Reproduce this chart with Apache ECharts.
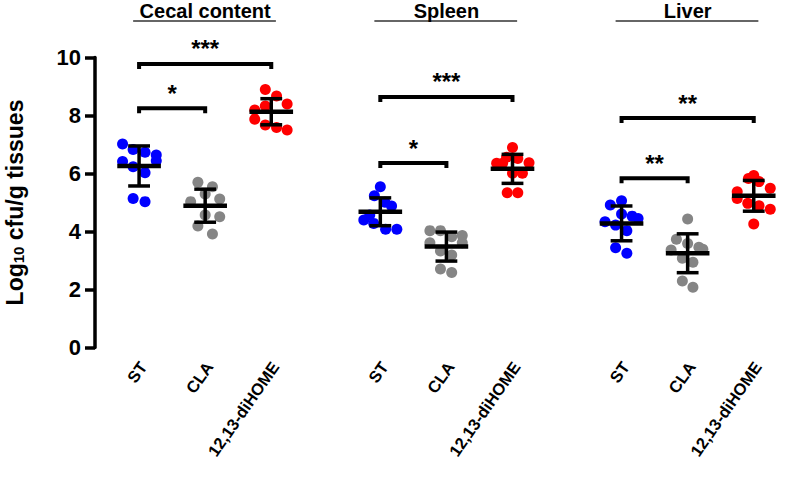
<!DOCTYPE html>
<html><head><meta charset="utf-8">
<script src="https://cdn.jsdelivr.net/npm/echarts@6/dist/echarts.min.js"></script>
<style>html,body{margin:0;padding:0;background:#fff}#c{width:800px;height:482px}</style>
</head><body><div id="c"></div>
<script>
// ---- data ----
const tissues = ['Cecal content', 'Spleen', 'Liver'];
const treatments = ['ST', 'CLA', '12,13-diHOME'];
// x position of each column (category units; gaps between tissues)
const columnPos = [0, 1, 2, 3.65, 4.65, 5.65, 7.3, 8.3, 9.3];
const columnLabels = ['ST', 'CLA', '12,13-diHOME', 'ST', 'CLA', '12,13-diHOME', 'ST', 'CLA', '12,13-diHOME'];

// individual points (log10 cfu/g) and horizontal jitter (category units)
const cecalST = [7.02, 6.83, 6.73, 6.64, 6.44, 6.41, 6.23, 6.03, 5.14, 5.03];
const cecalSTJit = [-0.25, -0.09, 0.09, 0.26, 0.26, -0.25, -0.09, 0.09, -0.09, 0.09];
const cecalCLA = [5.70, 5.54, 5.29, 5.12, 5.03, 4.57, 4.51, 4.19, 3.91];
const cecalCLAJit = [-0.11, 0.11, 0, 0.22, -0.22, 0, 0.22, -0.11, 0.11];
const cecalDi = [8.90, 8.67, 8.40, 8.19, 8.33, 7.87, 7.67, 7.59, 7.50];
const cecalDiJit = [-0.09, 0.08, 0.24, -0.25, -0.09, -0.25, -0.09, 0.08, 0.24];

const spleenST = [5.54, 5.23, 5.01, 4.88, 4.57, 4.40, 4.28, 4.08, 4.08];
const spleenSTJit = [0, -0.09, 0.07, 0.17, -0.16, -0.25, -0.10, 0.08, 0.25];
const spleenCLA = [4.03, 4.03, 3.82, 3.86, 3.61, 3.61, 3.33, 3.19, 2.71, 2.59];
const spleenCLAJit = [-0.25, -0.09, 0.08, 0.24, -0.25, 0.24, -0.09, 0.08, -0.09, 0.08];
const spleenDi = [6.90, 6.35, 6.35, 6.56, 6.52, 6.37, 6.01, 6.01, 5.34, 5.34];
const spleenDiJit = [0, -0.24, -0.15, -0.09, 0.08, 0.25, 0, 0.15, -0.08, 0.08];

const liverST = [4.91, 5.06, 4.60, 4.53, 4.45, 4.34, 4.22, 4.03, 3.44, 3.25];
const liverSTJit = [-0.17, 0, 0, 0.16, 0.25, -0.25, -0.09, 0.08, -0.09, 0.08];
const liverCLA = [4.43, 3.73, 3.59, 3.46, 3.39, 3.36, 3.08, 2.94, 2.29, 2.08];
const liverCLAJit = [0, -0.17, 0, 0.17, 0.23, -0.25, -0.08, 0.08, -0.08, 0.08];
const liverDi = [5.83, 5.93, 5.72, 5.49, 5.37, 5.14, 4.97, 4.89, 4.77, 4.26];
const liverDiJit = [-0.08, 0, 0.08, 0.25, -0.25, -0.25, -0.09, 0.08, 0.25, 0];

// mean and SD per column (as drawn)
const means = [6.26, 4.89, 8.13, 4.68, 3.48, 6.16, 4.28, 3.25, 5.23];
const sds = [0.69, 0.57, 0.45, 0.48, 0.50, 0.50, 0.60, 0.67, 0.53];

// significance brackets: [from column, to column, y level], and their labels
const bracketFrom = [0, 0, 3, 3, 6, 6];
const bracketTo = [1, 2, 4, 5, 7, 8];
const bracketY = [8.25, 9.78, 6.36, 8.64, 5.84, 7.91];
const bracketText = ['*', '***', '*', '***', '**', '**'];

const yTicks = [0, 2, 4, 6, 8, 10];

// ---- build ----
const FONT = "'Liberation Sans', Arial, Helvetica, sans-serif";
function pts(vals, jit, col) {
  return vals.map((v, i) => [columnPos[col] + jit[i], v]);
}
const stData = [].concat(pts(cecalST, cecalSTJit, 0), pts(spleenST, spleenSTJit, 3), pts(liverST, liverSTJit, 6));
const claData = [].concat(pts(cecalCLA, cecalCLAJit, 1), pts(spleenCLA, spleenCLAJit, 4), pts(liverCLA, liverCLAJit, 7));
const diData = [].concat(pts(cecalDi, cecalDiJit, 2), pts(spleenDi, spleenDiJit, 5), pts(liverDi, liverDiJit, 8));

const errData = columnPos.map((x, i) => [x, means[i], sds[i]]);
const brData = bracketFrom.map((f, i) => [columnPos[f], columnPos[bracketTo[i]], bracketY[i]]);
const LABEL_SHIFT = 0.06; // rotated labels sit slightly right of their column
const labelPos = columnPos.map(p => p + LABEL_SHIFT);

const chart = echarts.init(document.getElementById('c'), null, {renderer: 'svg'});

const option = {
  animation: false,
  backgroundColor: '#fff',
  grid: {left: 95, right: 0, top: 57.5, bottom: 134.5, containLabel: false, outerBoundsMode: 'none'},
  xAxis: {
    type: 'value', min: -0.667, max: 10.0,
    axisLine: {show: false}, axisTick: {show: false}, splitLine: {show: false},
    axisLabel: {
      customValues: labelPos,
      rotate: 55, margin: 16,
      fontSize: 16.5, fontWeight: 'bold', color: '#000', fontFamily: FONT,
      formatter: function (v) {
        let idx = 0, best = 1e9;
        labelPos.forEach((p, i) => { if (Math.abs(p - v) < best) { best = Math.abs(p - v); idx = i; } });
        return columnLabels[idx];
      }
    }
  },
  yAxis: {
    type: 'value', min: 0, max: 10, interval: 2,
    name: '{a|Log}{s|10}{a| cfu/g tissues}',
    nameLocation: 'middle', nameGap: 69,
    nameTextStyle: {
      fontSize: 23, fontWeight: 'bold', color: '#000', fontFamily: FONT,
      rich: {
        a: {fontSize: 23, fontWeight: 'bold', color: '#000', fontFamily: FONT, lineHeight: 23},
        s: {fontSize: 15, fontWeight: 'bold', color: '#000', fontFamily: FONT, lineHeight: 23, verticalAlign: 'bottom', padding: [8, 0, 0, 0]}
      }
    },
    axisLine: {show: true, onZero: false, lineStyle: {color: '#000', width: 3.5}},
    axisTick: {show: true, length: 10, lineStyle: {color: '#000', width: 3.5}},
    splitLine: {show: false},
    axisLabel: {
      margin: 14, fontSize: 22, fontWeight: 'bold', color: '#000', fontFamily: FONT,
      formatter: v => (yTicks.indexOf(v) >= 0 ? String(v) : '')
    }
  },
  series: [
    {type: 'scatter', name: 'ST', data: stData, symbolSize: 11, itemStyle: {color: '#0000ff', opacity: 1}, z: 2},
    {type: 'scatter', name: 'CLA', data: claData, symbolSize: 11, itemStyle: {color: '#858585', opacity: 1}, z: 2},
    {type: 'scatter', name: '12,13-diHOME', data: diData, symbolSize: 11, itemStyle: {color: '#ff0000', opacity: 1}, z: 2},
    {
      type: 'custom', name: 'meanSD', data: errData, z: 5,
      encode: {x: 0, y: 1},
      renderItem: function (params, api) {
        const x = api.value(0), m = api.value(1), s = api.value(2);
        const c = api.coord([x, m]);
        const t = api.coord([x, m + s]);
        const b = api.coord([x, m - s]);
        const unit = api.size([1, 0])[0];
        const hw = unit * 0.33, cw = unit * 0.165;
        const st = {stroke: '#000', lineWidth: 3.5};
        return {type: 'group', children: [
          {type: 'line', shape: {x1: c[0], y1: t[1], x2: c[0], y2: b[1]}, style: st},
          {type: 'line', shape: {x1: c[0] - cw, y1: t[1], x2: c[0] + cw, y2: t[1]}, style: st},
          {type: 'line', shape: {x1: c[0] - cw, y1: b[1], x2: c[0] + cw, y2: b[1]}, style: st},
          {type: 'line', shape: {x1: c[0] - hw, y1: c[1], x2: c[0] + hw, y2: c[1]}, style: {stroke: '#000', lineWidth: 4.5}}
        ]};
      }
    },
    {
      type: 'custom', name: 'brackets', data: brData, z: 5,
      encode: {x: [0, 1], y: 2},
      renderItem: function (params, api) {
        const p1 = api.coord([api.value(0), api.value(2)]);
        const p2 = api.coord([api.value(1), api.value(2)]);
        const y = p1[1];
        return {type: 'group', children: [
          {type: 'polyline', shape: {points: [[p1[0], y + 5], [p1[0], y], [p2[0], y], [p2[0], y + 5]]},
            style: {stroke: '#000', lineWidth: 4, fill: null}},
          {type: 'text', x: (p1[0] + p2[0]) / 2, y: y - 3,
            style: {text: bracketText[params.dataIndex], fontSize: 24, fontWeight: 'bold', fontFamily: FONT,
              fill: '#000', align: 'center', verticalAlign: 'bottom'}}
        ]};
      }
    }
  ]
};
chart.setOption(option);

// tissue headers over each group
const graphics = [];
tissues.forEach((name, g) => {
  const left = chart.convertToPixel({gridIndex: 0}, [columnPos[g * 3] - 0.09, 0])[0];
  const right = chart.convertToPixel({gridIndex: 0}, [columnPos[g * 3 + 2] + 0.07, 0])[0];
  const mid = chart.convertToPixel({gridIndex: 0}, [columnPos[g * 3 + 1], 0])[0];
  graphics.push({type: 'line', shape: {x1: left, y1: 21, x2: right, y2: 21}, style: {stroke: '#333', lineWidth: 1.5}});
  graphics.push({type: 'text', x: mid, y: 11, style: {text: name, fontSize: 20, fontWeight: 'bold', fontFamily: FONT,
    fill: '#000', align: 'center', verticalAlign: 'middle'}});
});
chart.setOption({graphic: graphics});
</script>
</body></html>
